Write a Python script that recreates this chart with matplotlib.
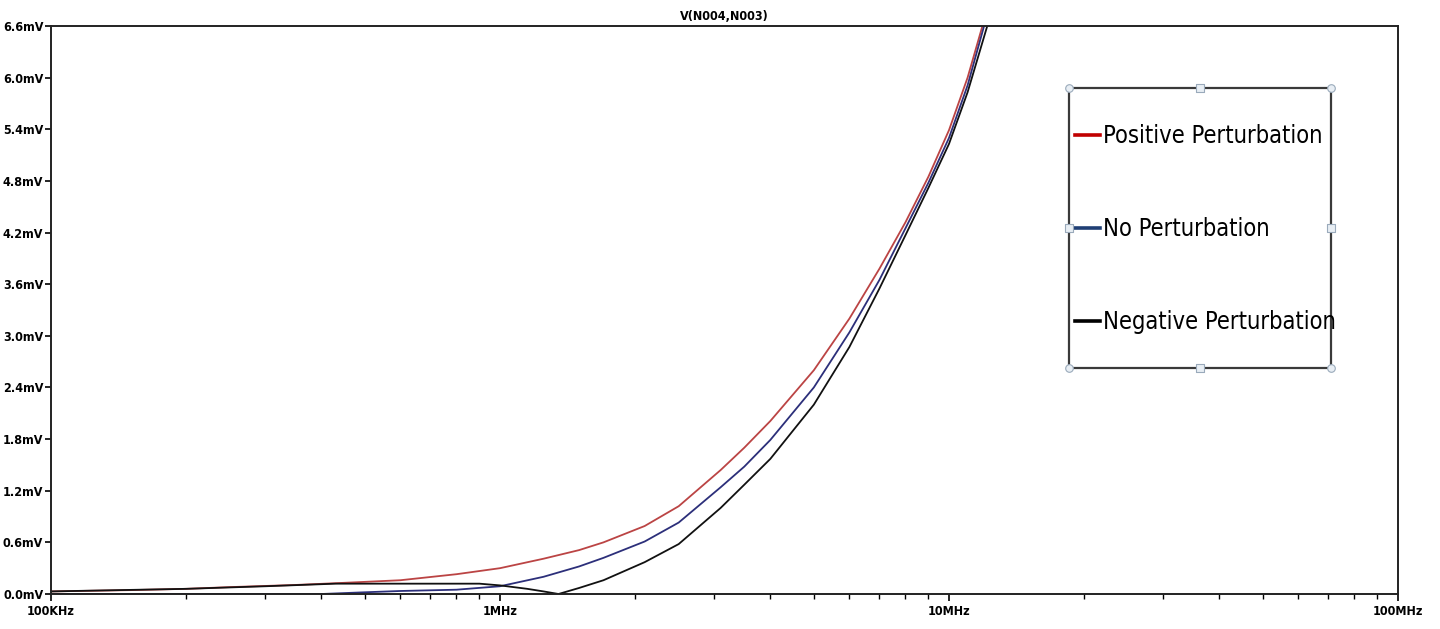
import matplotlib
matplotlib.use('Agg')
import matplotlib.pyplot as plt
from matplotlib import font_manager as fm
from matplotlib.patches import Rectangle
from matplotlib.ticker import FixedLocator, FuncFormatter, NullFormatter

# frequencies in Hz, voltages in mV
pos_freq = [1e5, 1.5e5, 2e5, 2.5e5, 3.5e5, 4.5e5, 6e5, 8e5, 1e6, 1.25e6, 1.5e6, 1.7e6, 2.1e6,
            2.5e6, 3.1e6, 3.5e6, 4e6, 5e6, 6e6, 7e6, 8e6, 9e6, 1e7, 1.1e7, 1.19e7]
pos_volt = [0.03, 0.045, 0.06, 0.08, 0.105, 0.13, 0.16, 0.23, 0.30, 0.41, 0.51, 0.60, 0.79,
            1.02, 1.44, 1.70, 2.01, 2.60, 3.20, 3.78, 4.32, 4.85, 5.39, 6.00, 6.62]

none_freq = [1e5, 2e5, 3e5, 4e5, 5e5, 6e5, 8e5, 1e6, 1.25e6, 1.5e6, 1.7e6, 2.1e6,
             2.5e6, 3.1e6, 3.5e6, 4e6, 5e6, 6e6, 7e6, 8e6, 9e6, 1e7, 1.1e7, 1.2e7]
none_volt = [0.0, 0.0, 0.0, 0.0, 0.02, 0.035, 0.05, 0.09, 0.20, 0.32, 0.42, 0.61,
             0.83, 1.24, 1.48, 1.79, 2.40, 3.04, 3.65, 4.25, 4.78, 5.30, 5.91, 6.62]

neg_freq = [1e5, 2e5, 3e5, 4.3e5, 6e5, 8e5, 9e5, 1e6, 1.15e6, 1.25e6, 1.35e6, 1.5e6, 1.7e6,
            2.1e6, 2.5e6, 3.1e6, 3.5e6, 4e6, 5e6, 6e6, 7e6, 8e6, 9e6, 1e7, 1.1e7, 1.22e7]
neg_volt = [0.03, 0.06, 0.09, 0.12, 0.12, 0.12, 0.12, 0.10, 0.06, 0.03, 0.0, 0.07, 0.16,
            0.37, 0.58, 1.00, 1.27, 1.57, 2.20, 2.87, 3.55, 4.17, 4.72, 5.23, 5.83, 6.62]

series_labels = ['Positive Perturbation', 'No Perturbation', 'Negative Perturbation']
curve_colors = ['#bb4444', '#2c2f7a', '#111111']
legend_colors = ['#c00000', '#1f3f75', '#000000']

y_ticks = [0.0, 0.6, 1.2, 1.8, 2.4, 3.0, 3.6, 4.2, 4.8, 5.4, 6.0, 6.6]
x_ticks = [1e5, 1e6, 1e7, 1e8]
x_tick_labels = ['100KHz', '1MHz', '10MHz', '100MHz']


def narrow_font():
    # LTspice/Calibri-ish text is narrow; use a condensed face when one is installed
    try:
        fm.findfont(fm.FontProperties(family='Liberation Sans Narrow'), fallback_to_default=False)
        return dict(family=['Liberation Sans Narrow', 'DejaVu Sans']), 1.0
    except ValueError:
        pass
    path = fm.findfont(fm.FontProperties(family='DejaVu Sans', stretch='condensed'))
    if 'Condensed' in path:
        return dict(family=['DejaVu Sans'], stretch='condensed'), 0.92
    return dict(family=['Roboto', 'DejaVu Sans']), 0.88


base_font, scale = narrow_font()
tick_font = dict(base_font, weight='bold', size=9.8 * scale)

W, H = 1440, 629
ax_l, ax_r, ax_t, ax_b = 51, 1398, 26, 594
fig = plt.figure(figsize=(W / 100, H / 100), dpi=100)
ax = fig.add_axes([ax_l / W, (H - ax_b) / H, (ax_r - ax_l) / W, (ax_b - ax_t) / H])

lines = []
for fx, vy, c, lab in zip([pos_freq, none_freq, neg_freq], [pos_volt, none_volt, neg_volt],
                          curve_colors, series_labels):
    ln, = ax.plot(fx, vy, color=c, lw=1.3, label=lab)
    lines.append(ln)

ax.set_xscale('log')
ax.set_xlim(1e5, 1e8)
ax.set_ylim(0, 6.6)

ax.yaxis.set_major_locator(FixedLocator(y_ticks))
ax.yaxis.set_major_formatter(FuncFormatter(lambda v, p: '%.1fmV' % v))
ax.xaxis.set_major_locator(FixedLocator(x_ticks))
ax.xaxis.set_major_formatter(FuncFormatter(lambda v, p: x_tick_labels[x_ticks.index(v)] if v in x_ticks else ''))
ax.xaxis.set_minor_formatter(NullFormatter())

ax.tick_params(axis='y', direction='out', length=4.5, width=1.2, pad=1)
ax.tick_params(axis='x', which='major', direction='out', length=5, width=1.2, pad=3)
ax.tick_params(axis='x', which='minor', direction='out', length=3.5, width=1.0)
for t in ax.get_xticklabels() + ax.get_yticklabels():
    t.set_fontproperties(fm.FontProperties(**tick_font))

for s in ax.spines.values():
    s.set_linewidth(1.4)
    s.set_color('#222222')

ax.set_title('V(N004,N003)', fontdict=tick_font, pad=4)

# legend box (text box pasted on top of the plot)
aw, ah = ax_r - ax_l, ax_b - ax_t
bx0, bx1 = (1069 - ax_l) / aw, (1331 - ax_l) / aw
by0, by1 = (ax_b - 368) / ah, (ax_b - 88) / ah
ax.add_patch(Rectangle((bx0, by0), bx1 - bx0, by1 - by0, transform=ax.transAxes,
                       fill=False, edgecolor='#3a3a3a', lw=1.6, zorder=5))
bxm, bym = (bx0 + bx1) / 2, (by0 + by1) / 2
ax.scatter([bx0, bx1, bx0, bx1], [by0, by0, by1, by1], transform=ax.transAxes, s=30,
           marker='o', facecolor='#e8eef4', edgecolor='#9aaabb', lw=0.8, zorder=6, clip_on=False)
ax.scatter([bxm, bxm, bx0, bx1], [by0, by1, bym, bym], transform=ax.transAxes, s=26,
           marker='s', facecolor='#e8eef4', edgecolor='#9aaabb', lw=0.8, zorder=6, clip_on=False)

leg = ax.legend(handles=lines, loc='upper left', bbox_to_anchor=((1075 - ax_l) / aw, (ax_b - 124) / ah),
                frameon=False, borderpad=0, borderaxespad=0, handlelength=1.05, handletextpad=0.15,
                labelspacing=2.92, prop=dict(base_font, size=18.5 * scale))
for h, c in zip(leg.legend_handles, legend_colors):
    h.set_color(c)
    h.set_linewidth(2.6)

fig.savefig('out.png', dpi=100)
